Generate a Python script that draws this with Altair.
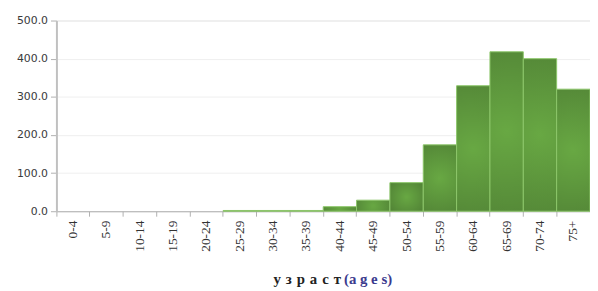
import altair as alt
import pandas as pd

ages = ["0-4", "5-9", "10-14", "15-19", "20-24", "25-29", "30-34", "35-39",
        "40-44", "45-49", "50-54", "55-59", "60-64", "65-69", "70-74", "75+"]
counts = [0, 0, 0, 0, 0, 2, 2, 2, 12, 29, 75, 174, 329, 418, 400, 320]
y_ticks = [0, 100, 200, 300, 400, 500]
title_uz = "у\u2004з\u2004р\u2004а\u2004с\u2004т"
title_en = "(a g e s)"

df = pd.DataFrame({"age": ages, "count": counts})

grad = alt.Gradient(
    gradient="radial",
    stops=[alt.GradientStop(color="#68A843", offset=0),
           alt.GradientStop(color="#4D7C33", offset=1)],
    x1=0.5, y1=0.5, r1=0, x2=0.5, y2=0.5, r2=0.75,
)

bars = alt.Chart(df).mark_bar(fill=grad, stroke="#8CC66A", strokeWidth=1).encode(
    x=alt.X("age:N", sort=ages, title=None,
            scale=alt.Scale(paddingInner=0, paddingOuter=0),
            axis=alt.Axis(labelAngle=270, labelFont="Liberation Serif", labelFontSize=13.5,
                          labelColor="#333333", labelPadding=4, tickSize=5,
                          tickColor="#B0B0B0", domainColor="#B0B0B0", bandPosition=0,
                          labelAlign="right", labelBaseline="middle")),
    y=alt.Y("count:Q", title=None,
            scale=alt.Scale(domain=[0, 500], nice=False),
            axis=alt.Axis(values=y_ticks, format=".1f", labelFont="DejaVu Sans",
                          labelFontSize=11, labelColor="#3A3A3A", tickSize=6,
                          tickColor="#B0B0B0", domainColor="#C0C0C0", domainWidth=2,
                          gridColor="#EFEFEF", labelPadding=3)),
    strokeOpacity=alt.condition("datum.count > 0", alt.value(1), alt.value(0)),
)

t1 = alt.Chart(pd.DataFrame({"t": [title_uz]})).mark_text(
    font="Liberation Serif", fontSize=15, fontWeight="bold", color="#222222",
    align="right", baseline="middle").encode(
    text="t:N", x=alt.value(288), y=alt.value(262))

t2 = alt.Chart(pd.DataFrame({"t": [title_en]})).mark_text(
    font="Liberation Serif", fontSize=15, fontWeight="bold", color="#3B3B8E",
    align="left", baseline="middle").encode(
    text="t:N", x=alt.value(291), y=alt.value(262))

chart = alt.layer(bars, t1, t2).properties(
    width=540, height=193,
    autosize=alt.AutoSizeParams(type="none"),
    padding={"left": 49, "top": 11, "right": 0, "bottom": 76},
).configure_view(stroke=None).configure(background="white")

chart.save("out.html", embed_options={"renderer": "svg", "actions": False})
